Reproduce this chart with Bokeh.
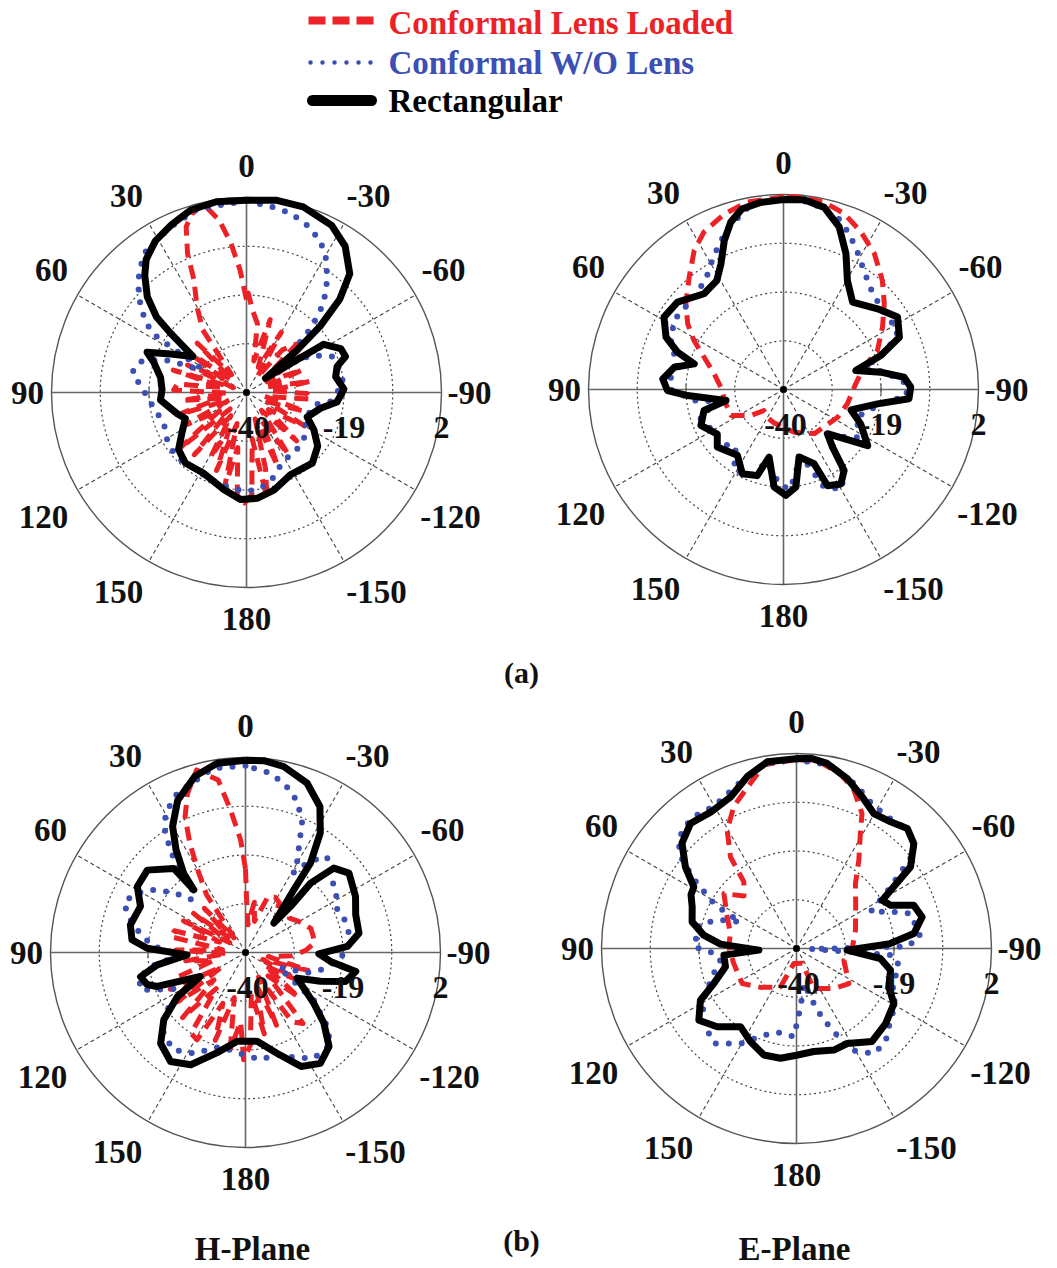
import numpy as np
from bokeh.plotting import figure
from bokeh.models import Range1d
from bokeh.core.properties import value
from bokeh.embed import file_html
from bokeh.resources import INLINE

# ---------------- data (angle in degrees, gain in dB) ----------------
R_MIN, R_MAX = -40.0, 2.0
RADIAL_TICKS = [-40, -19, 2]
ANGLE_TICKS = [0, 30, 60, 90, 120, 150, 180, -150, -120, -90, -60, -30]
SERIES = ["Conformal Lens Loaded", "Conformal W/O Lens", "Rectangular"]
PANEL_LABELS = ["(a)", "(b)"]
PLANE_LABELS = ["H-Plane", "E-Plane"]

# (a) H-plane
ha_lens_ang = [0, 3, 6, 9, 13, 17, 20, 23, 25, 30, 35, 40, 45, 50, 55, 60, 65, 70, 73, 78, 83, 88, 92, 97, 102,
               108, 113, 118, 124, 130, 135, 140, 146, 151, 155, 159, 163, 167, 171, 175, 179, -177, -173, -169,
               -166, -162, -157, -152, -146, -140, -134, -128, -120, -114, -108, -102, -96, -91, -86, -80, -74,
               -68, -62, -56, -50, -46, -40, -35, -30, -25, -18, -13, -9, -4, -1, 0]
ha_lens_db = [-20, -13.6, -7.6, -2.4, 1.8, 0.2, -2, -7.5, -13.2, -18.7, -23.5, -35, -25, -36, -24, -34, -26, -37,
              -23.5, -35, -25, -24.3, -36, -26, -34, -24.5, -36, -25, -33, -21, -35, -22.5, -34, -24, -31, -22,
              -33, -19, -28, -17, -16.2, -18, -30, -17, -23, -34, -22.8, -33, -24, -35, -25, -34, -25.6, -35, -27,
              -36, -26, -27, -35, -26, -36, -27, -35, -26, -33, -25, -28, -36, -25, -34, -23.5, -33, -25, -22.1,
              -18.6, -20]
ha_wo_ang = [0, 15, 25, 35.6, 40, 44.8, 50, 55, 58, 62, 64, 66, 68.4, 73.7, 80, 87.6, 99.6, 110.4, 120.8, 132,
             145.2, 157.6, 168.4, 178.5, -173.7, -164.9, -151, -142, -129.5, -113, -100.4, -96.1, -84.5, -75,
             -67.2, -60, -55, -47, -45.6, -43.5, -41.3, -37.9, -34, -30.2, -26.1, -20.6, -13.8, -7.4, 0]
ha_wo_db = [1.3, 0.9, -0.8, -2.7, -4.5, -6.8, -10.1, -13.4, -16.5, -29, -28.9, -25.3, -20.8, -16.2, -15, -17.5,
            -19.8, -21, -20.1, -19.4, -20.1, -19.7, -19.3, -18.7, -18.9, -20.1, -23.4, -23.4, -24, -26, -25.3,
            -21.8, -19, -19.5, -20, -24, -30, -24.8, -21.7, -18.4, -15.3, -12, -9, -6.1, -3.8, -1.8, -0.2, 0.4, 1.3]
ha_rect_ang = [0, 9, 17, 24, 31, 37, 41, 46, 50, 52, 54, 56, 63, 68, 72, 80, 88, 95, 107, 113, 122, 130, 139, 152,
               167, 177, -174, -164, -152, -137, -127, -119, -112, -102, -96, -88, -80, -74, -70, -65, -58, -53,
               -50, -48, -45, -41, -34, -27, -17, -9, 0]
ha_rect_db = [1.4, 1.6, 1.1, -0.4, -1.9, -4.1, -6.6, -10.3, -14.7, -19.2, -23.3, -26.1, -21.7, -16.9, -19, -21.2,
              -21.8, -21.4, -24.4, -25.7, -23.6, -20.9, -19.9, -20.3, -18.5, -16.9, -17.1, -18.2, -19.9, -19.2,
              -20.8, -23.4, -25.9, -23.7, -20.4, -19, -20.5, -19.7, -17.3, -17.6, -20.4, -34.9, -25.7, -18.7,
              -11.6, -6.1, -2, 0.4, 1.8, 1.9, 1.4]

# (a) E-plane
ea_lens_ang = [0, 10.9, 18.7, 26.8, 32.7, 40, 48.7, 55.6, 61.3, 67.8, 77.3, 87.9, 104, 116.3, 128.5, 137, 150, 165,
               -166, -145, -117.1, -102.6, -85.5, -74.5, -67.5, -57.8, -49.6, -42.2, -33.8, -26.2, -19, -12.2,
               -5.1, 0]
ea_lens_db = [1.5, 1.1, -0.1, -2, -4.4, -8.4, -12, -15, -18, -21.5, -24.7, -26.5, -27.2, -27.4, -31, -33.8, -33,
              -32.5, -30.5, -28.4, -26.9, -25.9, -24.4, -22, -18.1, -14.8, -11.5, -8.3, -4.8, -2.2, 0.1, 1.3, 1.6,
              1.5]
ea_wo_ang = [0, 10, 17.8, 22.8, 28.5, 35, 44, 57.7, 67.9, 76.4, 84, 90, 97, 100.5, 108, 118.4, 131, 140, 148.7,
             160, 167, 178, -176, -165.3, -157.4, -149.3, -143, -136, -122.8, -110, -98.4, -93, -87.4, -80, -75,
             -70, -63, -49.8, -40.9, -34.1, -28.3, -22.9, -17.4, -8, 0]
ea_wo_db = [1.0, 0.5, -2.9, -5.2, -8, -10.9, -12.3, -12.1, -13.8, -16.5, -15.6, -15.7, -20.6, -26, -20.9, -22.2,
            -22.1, -24, -19.5, -20.5, -24, -19.3, -18.5, -25.3, -17.2, -15.1, -19, -26, -21, -23, -18.8, -13.5,
            -13.3, -18, -22, -16.5, -12.3, -12.6, -11.3, -9.1, -6.4, -3.6, -1.1, 0.8, 1.0]
ea_rect_ang = [0, 7, 13, 17.5, 21.7, 26.5, 31.5, 39.7, 50.5, 58.8, 66, 70.6, 74, 78.5, 85, 90.5, 93.6, 100.8,
               104.8, 113.5, 124, 131, 145, 154, 163, 168, 174.5, -178.7, -172.8, -167, -157.6, -155.4, -148.7,
               -143.2, -139.6, -135.2, -123.7, -114, -106.8, -98.7, -94.2, -88.9, -84.2, -79.9, -75.3, -70.7,
               -65.7, -57.6, -49.4, -38.3, -30.4, -24.7, -18.9, -12.6, -6.2, 0]
ea_rect_db = [0.9, 0.6, -0.1, -2.2, -5.5, -9.8, -12.5, -13.2, -10.4, -9.9, -12.3, -15.8, -20, -16, -13.9, -15,
              -19.3, -27.4, -22.3, -20.6, -22.8, -21.1, -22.7, -19.8, -20.6, -25.1, -18.9, -17.2, -18.8, -25.1,
              -22.7, -17.2, -16.2, -18.2, -23.7, -26.6, -18.2, -21.8, -24.8, -19.5, -12.9, -12.6, -13.9, -18.7,
              -23.9, -17.8, -12.6, -10.9, -13.3, -16, -12.8, -7.8, -3, 0.2, 1.1, 0.9]

# (b) H-plane
hb_lens_ang = [0, 2.5, 6, 9, 15, 20, 24, 27, 30, 34, 38, 43, 48, 53, 58, 63, 68, 73, 78, 83, 88, 93, 98, 104, 110,
               116, 121, 126, 131, 136, 141, 146, 151, 156, 161, 166, 171, 176, 179, -177, -172, -167, -162, -157,
               -152, -146, -141, -136, -130, -124, -118, -112, -106, -100, -94, -88, -82, -76, -70, -64, -58, -52,
               -46, -40, -34, -28, -22, -16, -10, -5, -1, 0]
hb_lens_db = [-22, -15.7, -9.1, -2.4, 0.7, -3.5, -8, -13.6, -19.4, -25, -36, -27, -35, -26, -36, -25, -34, -24,
              -23.5, -35, -25, -36, -27, -33, -24, -22, -34, -22, -31, -20.5, -30, -19, -18.5, -28, -20, -30, -19,
              -25, -16.9, -20, -31, -22, -33, -23, -34, -22, -20.3, -33, -25, -35, -27, -36, -26, -35, -30, -27,
              -25, -25, -25, -26, -27, -28, -27, -30, -27, -26.5, -27, -33, -29, -34, -28, -22]
hb_wo_ang = [0, 10, 23.2, 29.9, 34, 37, 40, 45, 50, 55.6, 62, 67.9, 74.1, 80, 86, 92, 98, 103, 109.6, 116, 121,
             126.6, 135, 143.6, 152.8, 165, 179, -172, -163, -153.9, -147.1, -137.4, -132.2, -125, -114, -108,
             -103, -95, -88, -82.2, -72, -65, -56, -48.2, -40.4, -35, -31, -29.6, -23.4, -18.9, -13.4, -7.9, 0]
hb_wo_db = [0.2, 0.3, -2.7, -5.4, -9, -14, -22, -24, -20, -16.1, -13, -11.7, -14.2, -17, -20, -26, -20, -16.5, -16,
            -22, -25, -18.1, -15, -13.9, -15.6, -19, -18, -16.7, -17, -14.7, -12.9, -13, -16.2, -22, -32.1, -26,
            -23.4, -20, -18, -17.2, -17.5, -18.2, -16.5, -15.4, -12.9, -16, -20, -17.5, -9.3, -5.6, -2.9, -1, 0.2]
hb_rect_ang = [0, 8.5, 16, 24, 30, 34, 38, 39.5, 40.5, 50, 58.6, 66.3, 76.5, 83.6, 87.5, 92.3, 98, 103, 108, 111,
               118, 123, 129.5, 137, 145.5, 154, 164, 174.7, -172.5, -162.5, -154, -146, -138.4, -132, -126.6,
               -116.4, -111, -106.2, -99.8, -96, -91, -86.6, -80.3, -71, -63, -52.5, -46.3, -43.2, -44.4, -44,
               -37.6, -36, -32, -27, -20, -11.6, -5.5, 0]
hb_rect_db = [1.4, 1.2, -0.5, -4.1, -8.6, -13.2, -18.4, -22.5, -16.2, -12.4, -12.7, -15.3, -14.5, -15.4, -18.8,
              -27.4, -20.8, -16.8, -17.7, -19.6, -29, -22.5, -17.2, -13.2, -11.5, -13.1, -17.5, -20.8, -20.7,
              -17.2, -12.7, -11.2, -12.9, -17.3, -21.7, -27.6, -22.7, -17.6, -15.9, -21.6, -24.2, -18, -15.2,
              -14.9, -13.4, -11.9, -13.7, -19.5, -26.1, -31.2, -23, -16.2, -9.6, -4.7, -1.2, 0.9, 1.5, 1.4]

# (b) E-plane
eb_lens_ang = [0, 10, 20.3, 23.9, 30.4, 35.8, 38.3, 45, 52.9, 65.5, 77.2, 88.6, 103.5, 122.8, 137.3, 157.3, 170,
               -159, -156.6, -137, -123.8, -103.8, -90, -72.7, -54.8, -42.2, -35.2, -28.4, -25.9, -19.9, -14.1,
               -7, 0]
eb_lens_db = [0.7, 0.2, -5.2, -6.6, -10.5, -15.7, -21.7, -24, -20.4, -23.6, -25.4, -25.4, -26.1, -26.1, -28.6, -31,
              -36.7, -36.6, -30.6, -28.2, -26.4, -29.5, -28, -26.7, -24.4, -21.1, -16.7, -11, -7.7, -3.7, -1.2,
              0.5, 0.7]
eb_wo_ang = [0, 10, 20, 30, 38, 44, 48.7, 52.3, 56, 61.4, 63.2, 64.5, 70, 76, 81.4, 89, 93, 98.7, 108, 118, 127,
             139, 149.5, 159.3, 168, 178.3, -176, -168, -161.5, -157.8, -154.9, -152, -143.6, -136.4, -129, -120,
             -110, -100, -94, -92, -89, -84.6, -73, -69.4, -63.6, -58, -51, -47.3, -41.4, -35.9, -28, -20, -10, 0]
eb_wo_db = [0.6, 0.4, -2.5, -4.6, -4, -4.5, -6.3, -8.9, -13.4, -19.7, -23.3, -26.6, -22, -18.5, -18.4, -17.9, -22,
            -23.4, -21, -17.5, -14.5, -12.9, -16.2, -20, -21.5, -21, -27.4, -32.3, -26, -22.5, -19.4, -15.2, -11.9,
            -12.2, -14.2, -15.5, -18, -17.5, -19, -37, -16.2, -13.2, -14.3, -17.6, -22.2, -17, -7.5, -5.6, -5.1,
            -5.5, -5, -2.5, 0.2, 0.6]
eb_rect_ang = [0, 8.9, 16, 23.5, 32.2, 40.3, 47.4, 53.7, 59, 63, 68.2, 75.7, 81.8, 86.7, 92.5, 95.2, 104.5, 112.9,
               118.3, 126.3, 134.6, 144.4, 153.8, 163, 171.7, 180, -170.5, -159.8, -151.9, -140.9, -130.1, -119.5,
               -112.5, -103, -96.8, -91.9, -87, -82.7, -75.9, -69.7, -65.3, -60.6, -57.6, -54.4, -48.2, -42.7,
               -36.6, -29.8, -23.4, -16.6, -9.4, -4.2, 0]
eb_rect_db = [0.9, 0.7, -1.5, -4.4, -5.3, -4.7, -6.5, -10.3, -14.2, -14.5, -15.8, -16.8, -19.8, -23.6, -31.9,
              -24.3, -24.2, -20.7, -16.5, -13.9, -16, -19.3, -17.6, -16, -16.1, -17, -17.5, -16.7, -16.8, -14.2,
              -14.9, -15.9, -18.5, -19.2, -21.8, -29.1, -19.8, -14.5, -12.1, -13.1, -17.7, -18.8, -15.2, -9.8,
              -6.1, -4.8, -6, -6.5, -4.4, -1.8, 0.4, 1.1, 0.9]

# ---------------- layout / style ----------------
W, H = 1057, 1268
R = 195.0
CENTERS = [(246, 392), (783, 389), (245, 952), (796, 948)]
# pixel offsets of the angle labels from each polar centre (same order as ANGLE_TICKS)
LABEL_DX = [0, -120, -195, -219, -203, -128, 0, 130, 204, 223, 197, 122]
LABEL_DY = [-227, -197, -123, 0, 124, 199, 226, 199, 124, 0, -123, -197]
RED, BLUE, BLACK = "#ec2227", "#3c4fb4", "#000000"
FONT = value("Liberation Serif")

p = figure(width=W, height=H, x_range=Range1d(0, W), y_range=Range1d(H, 0),
           output_backend="svg", toolbar_location=None, x_axis_type=None, y_axis_type=None,
           min_border=0)
p.outline_line_color = None
p.xgrid.visible = False
p.ygrid.visible = False
p.background_fill_color = "white"


def to_xy(cx, cy, ang, db):
    a = np.radians(np.asarray(ang, dtype=float))
    r = (np.clip(np.asarray(db, dtype=float), R_MIN, R_MAX) - R_MIN) / (R_MAX - R_MIN) * R
    return cx - r * np.sin(a), cy - r * np.cos(a)


def polar_frame(cx, cy):
    for tick in [-29.5, -19, -8.5]:
        rr = (tick - R_MIN) / (R_MAX - R_MIN) * R
        p.circle(x=[cx], y=[cy], radius=rr, fill_color=None, line_color="#444444",
                 line_width=1.2, line_dash="2 3")
    p.circle(x=[cx], y=[cy], radius=R, fill_color=None, line_color="#555555", line_width=1.4)
    sp = [a for a in range(0, 360, 30) if a % 90 != 0]
    sa = np.radians(sp)
    p.segment(x0=[cx] * len(sp), y0=[cy] * len(sp), x1=list(cx - R * np.sin(sa)),
              y1=list(cy - R * np.cos(sa)), line_color="#444444", line_width=1.1, line_dash="4 3")
    p.segment(x0=[cx - R, cx], y0=[cy, cy - R], x1=[cx + R, cx], y1=[cy, cy + R],
              line_color="#666666", line_width=1.6)
    p.segment(x0=[cx - R / 2, cx + R / 2], y0=[cy - 5, cy - 5], x1=[cx - R / 2, cx + R / 2],
              y1=[cy + 5, cy + 5], line_color="#555555", line_width=1.2)
    p.text(x=[cx + d for d in LABEL_DX], y=[cy + d for d in LABEL_DY], text=[str(t) for t in ANGLE_TICKS],
           text_font=FONT, text_font_style="bold", text_font_size="33px", text_align="center",
           text_baseline="middle", text_color="#111111")


def draw_curves(cx, cy, lens, wo, rect):
    x, y = to_xy(cx, cy, *lens)
    p.line(x, y, line_color=RED, line_width=5, line_dash="14 8", line_join="round")
    x, y = to_xy(cx, cy, *wo)
    p.line(x, y, line_color=BLUE, line_width=6, line_dash="0 13", line_cap="round", line_join="round")
    x, y = to_xy(cx, cy, *rect)
    p.line(x, y, line_color=BLACK, line_width=7, line_join="round")
    p.scatter(x=[cx], y=[cy], size=6, color="black")
    rl = [cx + (t - R_MIN) / (R_MAX - R_MIN) * R for t in RADIAL_TICKS]
    p.text(x=[rl[0] + 2, rl[1], rl[2]], y=[cy + 35] * 3, text=[str(t) for t in RADIAL_TICKS],
           text_font=FONT, text_font_style="bold", text_font_size="32px", text_align="center",
           text_baseline="middle", text_color="#111111")


panels = [
    ((ha_lens_ang, ha_lens_db), (ha_wo_ang, ha_wo_db), (ha_rect_ang, ha_rect_db)),
    ((ea_lens_ang, ea_lens_db), (ea_wo_ang, ea_wo_db), (ea_rect_ang, ea_rect_db)),
    ((hb_lens_ang, hb_lens_db), (hb_wo_ang, hb_wo_db), (hb_rect_ang, hb_rect_db)),
    ((eb_lens_ang, eb_lens_db), (eb_wo_ang, eb_wo_db), (eb_rect_ang, eb_rect_db)),
]
for (cx, cy), curves in zip(CENTERS, panels):
    polar_frame(cx, cy)
for (cx, cy), curves in zip(CENTERS, panels):
    draw_curves(cx, cy, *curves)

# ---------------- legend ----------------
leg_y = [20, 62, 100]
leg_text_y = [22, 62, 100]
p.line([308, 373], [leg_y[0]] * 2, line_color=RED, line_width=8, line_dash="17 7")
p.line([310, 373], [leg_y[1]] * 2, line_color=BLUE, line_width=4.5, line_dash="0 12", line_cap="round")
p.line([312, 371], [leg_y[2]] * 2, line_color=BLACK, line_width=11, line_cap="round")
for txt, yt, col in zip(SERIES, leg_text_y, [RED, BLUE, BLACK]):
    p.text(x=[388], y=[yt], text=[txt], text_font=FONT, text_font_style="bold", text_font_size="33px",
           text_align="left", text_baseline="middle", text_color=col)

# ---------------- captions ----------------
p.text(x=[521, 521], y=[672, 1240], text=PANEL_LABELS, text_font=FONT, text_font_style="bold",
       text_font_size="30px", text_align="center", text_baseline="middle", text_color="#111111")
p.text(x=[252, 794], y=[1248, 1248], text=PLANE_LABELS, text_font=FONT, text_font_style="bold",
       text_font_size="33px", text_align="center", text_baseline="middle", text_color="#111111")

open("out.html", "w").write(file_html(p, INLINE))
